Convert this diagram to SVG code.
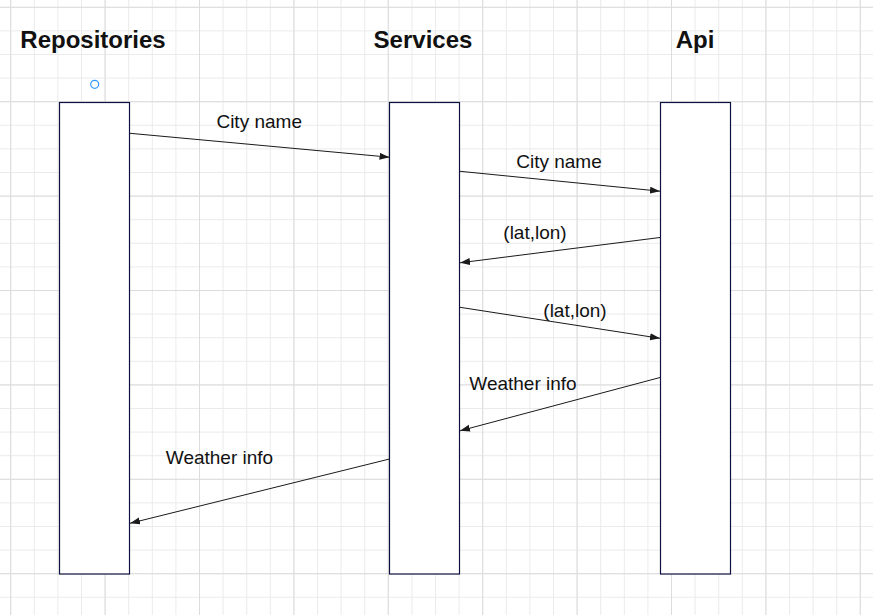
<svg xmlns="http://www.w3.org/2000/svg" width="873" height="615" viewBox="0 0 873 615">
<style>
.minor{stroke:#ebebeb;stroke-width:1;fill:none}
.major{stroke:#dcdcdc;stroke-width:1;fill:none}
.life{fill:#ffffff;stroke:#0c1240;stroke-width:1.2}
.title{font-family:"Liberation Sans",Arial,sans-serif;font-size:24px;font-weight:bold;fill:#111111;text-anchor:middle}
.lbl{font-family:"Liberation Sans",Arial,sans-serif;font-size:19px;fill:#111111;text-anchor:middle}
.msg{stroke:#1a1a1a;stroke-width:1;fill:none;marker-end:url(#arr)}
</style>
<defs>
<marker id="arr" markerUnits="userSpaceOnUse" markerWidth="11" markerHeight="8" refX="10" refY="3.5" orient="auto">
<path d="M0,0 L10,3.5 L0,7 z" fill="#1a1a1a"/>
</marker>
</defs>
<rect width="873" height="615" fill="#ffffff"/>
<g id="grid">
<path class="minor" d="M10.7 0V615M34.3 0V615M57.9 0V615M81.5 0V615M105.1 0V615M128.7 0V615M152.3 0V615M175.9 0V615M199.5 0V615M223.1 0V615M246.7 0V615M270.3 0V615M293.9 0V615M317.5 0V615M341.1 0V615M364.7 0V615M388.3 0V615M411.9 0V615M435.5 0V615M459.1 0V615M482.7 0V615M506.3 0V615M529.9 0V615M553.5 0V615M577.1 0V615M600.7 0V615M624.3 0V615M647.9 0V615M671.5 0V615M695.1 0V615M718.7 0V615M742.3 0V615M765.9 0V615M789.5 0V615M813.1 0V615M836.7 0V615M860.3 0V615M0 7.3H873M0 30.9H873M0 54.5H873M0 78.1H873M0 101.7H873M0 125.3H873M0 148.9H873M0 172.5H873M0 196.1H873M0 219.7H873M0 243.3H873M0 266.9H873M0 290.5H873M0 314.1H873M0 337.7H873M0 361.3H873M0 384.9H873M0 408.5H873M0 432.1H873M0 455.7H873M0 479.3H873M0 502.9H873M0 526.5H873M0 550.1H873M0 573.7H873M0 597.3H873"/>
<path class="major" d="M10.7 0V615M105.1 0V615M199.5 0V615M293.9 0V615M388.3 0V615M482.7 0V615M577.1 0V615M671.5 0V615M765.9 0V615M860.3 0V615M0 7.3H873M0 101.7H873M0 196.1H873M0 290.5H873M0 384.9H873M0 479.3H873M0 573.7H873"/>
</g>
<g id="repositories">
<text class="title" x="93" y="47.5">Repositories</text>
<circle cx="94.7" cy="84.3" r="4" fill="none" stroke="#3399ff" stroke-width="1.2"/>
<rect class="life" x="59.5" y="102.5" width="70" height="471.5"/>
</g>
<g id="services">
<text class="title" x="423" y="47.5">Services</text>
<rect class="life" x="389.5" y="102.5" width="70" height="471.5"/>
</g>
<g id="api">
<text class="title" x="695" y="47.5">Api</text>
<rect class="life" x="660.5" y="102.5" width="70" height="471.5"/>
</g>
<g id="connectors">
<line class="msg" x1="130" y1="133.3" x2="389.5" y2="157.2"/>
<line class="msg" x1="460" y1="171.3" x2="660" y2="191.2"/>
<line class="msg" x1="660" y1="237.5" x2="460" y2="262.8"/>
<line class="msg" x1="460" y1="307.3" x2="660" y2="338.3"/>
<line class="msg" x1="660" y1="377.5" x2="460" y2="430.8"/>
<line class="msg" x1="389.5" y1="459" x2="130" y2="523.3"/>
<text class="lbl" x="259.2" y="128">City name</text>
<text class="lbl" x="559" y="168">City name</text>
<text class="lbl" x="535" y="239">(lat,lon)</text>
<text class="lbl" x="575" y="316.5">(lat,lon)</text>
<text class="lbl" x="523" y="389.5">Weather info</text>
<text class="lbl" x="219.5" y="463.5">Weather info</text>
</g>
</svg>
